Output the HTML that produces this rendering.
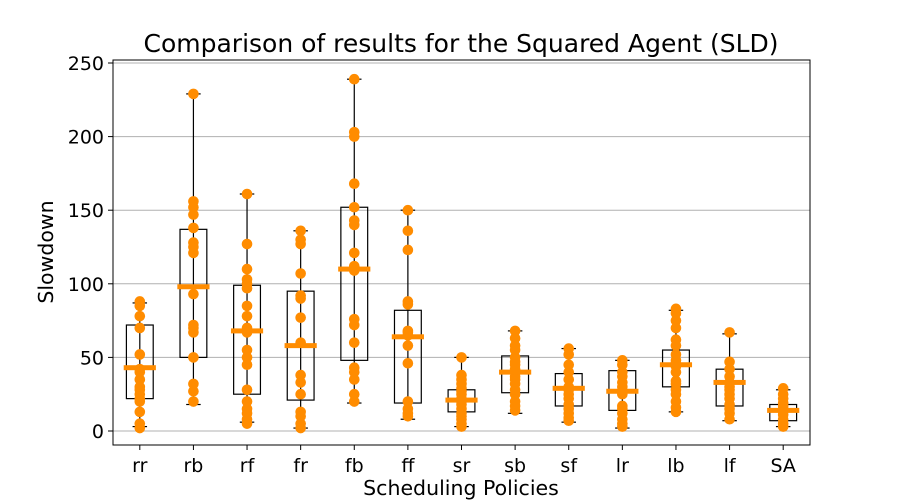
<!DOCTYPE html>
<html><head><meta charset="utf-8"><style>
body{margin:0;background:#fff;}
svg{display:block;font-family:"DejaVu Sans","Liberation Sans",sans-serif;}
</style></head><body>
<svg id="chart" width="900" height="500">
<rect width="900" height="500" fill="#fff"/>
<text x="461" y="52" font-size="25" text-anchor="middle">Comparison of results for the Squared Agent (SLD)</text>
<g id="grid"></g><g id="marks"></g><g id="axes"></g>
<text x="461" y="495" font-size="20.5" text-anchor="middle">Scheduling Policies</text>
<text transform="translate(53,252) rotate(-90)" font-size="20.5" text-anchor="middle">Slowdown</text>
</svg>
<script>
const categories=["rr","rb","rf","fr","fb","ff","sr","sb","sf","lr","lb","lf","SA"];
const whiskerLow=[3,18,6,2,19,8,3,12,6,2,13,7,3];
const q1=[22,50,25,21,48,19,13,26,17,14,30,17,7];
const median=[43,98,68,58,110,64,21,40,29,27,45,33,14];
const q3=[72,137,99,95,152,82,28,51,39,41,55,42,18];
const whiskerHigh=[87,229,161,136,239,150,50,68,56,48,82,66,28];
const points=[
[88,85,78,70,52,42,40,35,30,28,25,22,20,13,5,2],
[229,156,152,147,138,128,125,121,93,72,70,67,50,32,27,20],
[161,127,110,103,100,97,85,78,70,67,55,50,45,28,20,15,12,8,5],
[136,130,127,107,92,90,77,60,38,33,25,13,10,5,2],
[239,203,200,168,152,143,140,121,112,109,76,72,60,43,40,35,25,20],
[150,136,123,88,86,68,67,65,58,46,20,15,12,10],
[50,38,35,32,29,27,25,22,20,18,15,12,10,8,5,3],
[68,63,58,55,50,47,45,42,40,37,35,32,28,25,20,17,14],
[56,52,45,40,35,30,28,25,22,18,15,12,9,7],
[48,45,40,37,33,30,27,25,17,15,12,8,5,3],
[83,80,75,70,62,58,52,48,46,44,40,34,32,28,25,20,16,13],
[67,47,42,37,33,30,28,25,22,18,15,12,8],
[29,25,22,19,17,15,13,11,8,5,3]
];
const yTicks=[0,50,100,150,200,250];
const L=113,R=810,T=60,B=445;
const step=(R-L)/categories.length;
const xS=i=>L+step*(i+0.5);
const yS=v=>431-v*(431-63)/250;
const NS="http://www.w3.org/2000/svg";
function mk(parent,tag,attrs){const e=document.createElementNS(NS,tag);for(const k in attrs)e.setAttribute(k,attrs[k]);document.getElementById(parent).appendChild(e);return e;}
yTicks.forEach(t=>{
 let g=mk('grid','line',{x1:L,x2:R,y1:yS(t),y2:yS(t),stroke:'#b0b0b0','stroke-width':1});
 
 
 let tk=mk('axes','line',{x1:L-5,x2:L,y1:yS(t),y2:yS(t),stroke:'#000'});
 
 
 let tx=mk('axes','text',{x:L-9,y:yS(t)+7,'font-size':19,'text-anchor':'end'});
 tx.textContent=t;
 
 
});
categories.forEach((c,i)=>{
 const x=xS(i),bw=step*0.5,cw=step*0.27,mw=step*0.6;
 let w=mk('marks','line',{x1:x,x2:x,y1:yS(whiskerLow[i]),y2:yS(whiskerHigh[i]),stroke:'#000','stroke-width':1.2});
 
 
 [whiskerLow[i],whiskerHigh[i]].forEach(v=>{
  let cap=mk('marks','line',{x1:x-cw/2,x2:x+cw/2,y1:yS(v),y2:yS(v),stroke:'#000','stroke-width':1.2});
  
  
 });
 let b=mk('marks','rect',{x:x-bw/2,y:yS(q3[i]),width:bw,height:yS(q1[i])-yS(q3[i]),fill:'none',stroke:'#000','stroke-width':1.2});
 
 
 points[i].forEach(v=>{
  let p=mk('marks','circle',{cx:x,cy:yS(v),r:5.3,fill:'#ff8c00'});
  
  
 });
 let m=mk('marks','rect',{x:x-mw/2,y:yS(median[i])-2.5,width:mw,height:5,fill:'#ff8c00'});
 
 
 let tk=mk('axes','line',{x1:x,x2:x,y1:B,y2:B+5,stroke:'#000'});
 
 
 let tx=mk('axes','text',{x:x,y:B+27,'font-size':19,'text-anchor':'middle'});
 tx.textContent=c;
 
 
});
let fr=mk('axes','rect',{x:L,y:T,width:R-L,height:B-T,fill:'none',stroke:'#000','stroke-width':1});


</script>
</body></html>
